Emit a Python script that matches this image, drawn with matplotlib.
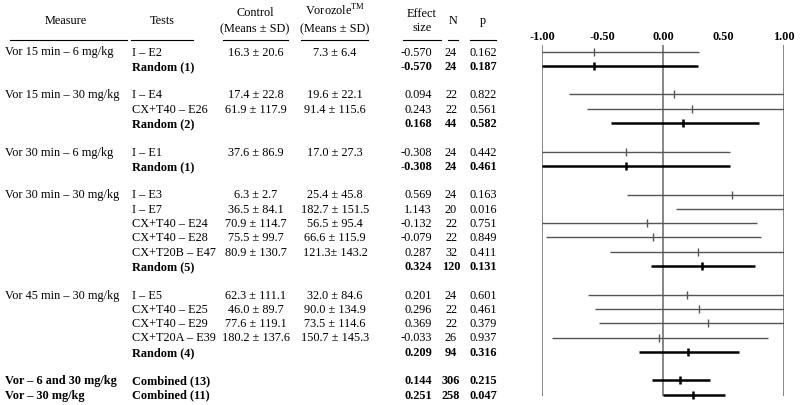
import matplotlib
matplotlib.use('Agg')
import matplotlib.pyplot as plt

plt.rcParams['font.family'] = ['Liberation Serif', 'DejaVu Serif']
plt.rcParams['mathtext.fontset'] = 'custom'
plt.rcParams['mathtext.rm'] = 'Liberation Serif'

# ---- table data ----
measures = ["Vor 15 min \u2013 6 mg/kg", "Vor 15 min \u2013 30 mg/kg", "Vor 30 min \u2013 6 mg/kg",
            "Vor 30 min \u2013 30 mg/kg", "Vor 45 min \u2013 30 mg/kg",
            "Vor \u2013 6 and 30 mg/kg", "Vor \u2013 30 mg/kg"]
measure_rows = [0, 3, 7, 10, 17, 23, 24]

tests = ["I \u2013 E2", "Random (1)",
         "I \u2013 E4", "CX+T40 \u2013 E26", "Random (2)",
         "I \u2013 E1", "Random (1)",
         "I \u2013 E3", "I \u2013 E7", "CX+T40 \u2013 E24", "CX+T40 \u2013 E28", "CX+T20B \u2013 E47", "Random (5)",
         "I \u2013 E5", "CX+T40 \u2013 E25", "CX+T40 \u2013 E29", "CX+T20A \u2013 E39", "Random (4)",
         "Combined (13)", "Combined (11)"]
rows = [0, 1, 3, 4, 5, 7, 8, 10, 11, 12, 13, 14, 15, 17, 18, 19, 20, 21, 23, 24]

control = ["16.3 \u00b1 20.6", "", "17.4 \u00b1 22.8", "61.9 \u00b1 117.9", "", "37.6 \u00b1 86.9", "",
           "6.3 \u00b1 2.7", "36.5 \u00b1 84.1", "70.9 \u00b1 114.7", "75.5 \u00b1 99.7", "80.9 \u00b1 130.7", "",
           "62.3 \u00b1 111.1", "46.0 \u00b1 89.7", "77.6 \u00b1 119.1", "180.2 \u00b1 137.6", "", "", ""]
vorozole = ["7.3 \u00b1 6.4", "", "19.6 \u00b1 22.1", "91.4 \u00b1 115.6", "", "17.0 \u00b1 27.3", "",
            "25.4 \u00b1 45.8", "182.7 \u00b1 151.5", "56.5 \u00b1 95.4", "66.6 \u00b1 115.9", "121.3\u00b1 143.2", "",
            "32.0 \u00b1 84.6", "90.0 \u00b1 134.9", "73.5 \u00b1 114.6", "150.7 \u00b1 145.3", "", "", ""]
effect = [-0.570, -0.570, 0.094, 0.243, 0.168, -0.308, -0.308, 0.569, 1.143, -0.132, -0.079,
          0.287, 0.324, 0.201, 0.296, 0.369, -0.033, 0.209, 0.144, 0.251]
n = [24, 24, 22, 22, 44, 24, 24, 24, 20, 22, 22, 32, 120, 24, 22, 22, 26, 94, 306, 258]
p = [0.162, 0.187, 0.822, 0.561, 0.582, 0.442, 0.461, 0.163, 0.016, 0.751, 0.849, 0.411,
     0.131, 0.601, 0.461, 0.379, 0.937, 0.316, 0.215, 0.047]
# confidence limits as drawn (clipped at -1 / 1)
ci_lo = [-1.00, -1.00, -0.78, -0.63, -0.43, -1.00, -1.00, -0.30, 0.11, -1.00, -0.97,
         -0.44, -0.10, -0.62, -0.56, -0.53, -0.92, -0.20, -0.09, 0.00]
ci_hi = [0.30, 0.29, 1.00, 1.00, 0.79, 0.55, 0.55, 1.00, 1.00, 0.78, 0.81,
         1.00, 0.76, 1.00, 1.00, 1.00, 0.87, 0.63, 0.39, 0.51]
ticks = [-1.0, -0.5, 0.0, 0.5, 1.0]

bold = [t.startswith(('Random', 'Combined')) for t in tests]

step = 14.3
def ry(px):
    return (px - 52.5) / step

fs = 8.8
fig = plt.figure(figsize=(8, 4.06), dpi=100)
ax = fig.add_axes([0, 0, 1, 1])
ax.set_xlim(0, 800)
ax.set_ylim(ry(406), ry(0))
ax.axis('off')

# header
ax.text(66, ry(21), "Measure", ha='center', va='center', fontsize=fs)
ax.text(162, ry(21), "Tests", ha='center', va='center', fontsize=fs)
ax.text(255, ry(13), "Control", ha='center', va='center', fontsize=fs)
ax.text(255, ry(29), "(Means \u00b1 SD)", ha='center', va='center', fontsize=fs)
ax.text(335, ry(11), "Vorozole$^{\\rm TM}$", ha='center', va='center', fontsize=fs)
ax.text(335, ry(29), "(Means \u00b1 SD)", ha='center', va='center', fontsize=fs)
ax.text(422, ry(14), "Effect", ha='center', va='center', fontsize=fs)
ax.text(422, ry(28), "size", ha='center', va='center', fontsize=fs)
ax.text(453, ry(21), "N", ha='center', va='center', fontsize=fs)
ax.text(483, ry(21), "p", ha='center', va='center', fontsize=fs)
for x0, x1 in [(10, 127), (131, 193), (223, 288), (301, 368), (403, 441), (448, 458), (470, 496)]:
    ax.plot([x0, x1], [ry(41), ry(41)], color='black', lw=0.8)

for m, r in zip(measures, measure_rows):
    ax.text(5, r, m, va='center', fontsize=fs, weight='bold' if r >= 23 else 'normal')

for i, r in enumerate(rows):
    w = 'bold' if bold[i] else 'normal'
    ax.text(132, r, tests[i], va='center', fontsize=fs, weight=w)
    ax.text(256, r, control[i], va='center', ha='center', fontsize=fs)
    ax.text(335, r, vorozole[i], va='center', ha='center', fontsize=fs)
    ax.text(432, r, f"{effect[i]:.3f}", va='center', ha='right', fontsize=fs, weight=w)
    ax.text(451, r, str(n[i]), va='center', ha='center', fontsize=fs, weight=w)
    ax.text(470, r, f"{p[i]:.3f}", va='center', ha='left', fontsize=fs, weight=w)

# forest plot
fx = fig.add_axes([542 / 800, 0, 242 / 800, 1])
fx.set_xlim(-1, 1)
fx.set_ylim(ry(406), ry(0))
fx.axis('off')
fx.vlines([-1, 0, 1], ry(46), ry(397), color='#666666', lw=1.1)
for t in ticks:
    fx.text(t, ry(37), f"{t:.2f}", ha='center', va='center', fontsize=fs, weight='bold')
for i, r in enumerate(rows):
    if bold[i]:
        c, lw, mew = 'black', 1.8, 1.8
    else:
        c, lw, mew = '#555555', 1.0, 1.0
    fx.hlines(r, ci_lo[i], ci_hi[i], color=c, lw=lw)
    if -1 <= effect[i] <= 1:
        fx.plot(effect[i], r, marker='|', ms=6, mew=mew, color=c)

fig.savefig('out.png', dpi=100)
